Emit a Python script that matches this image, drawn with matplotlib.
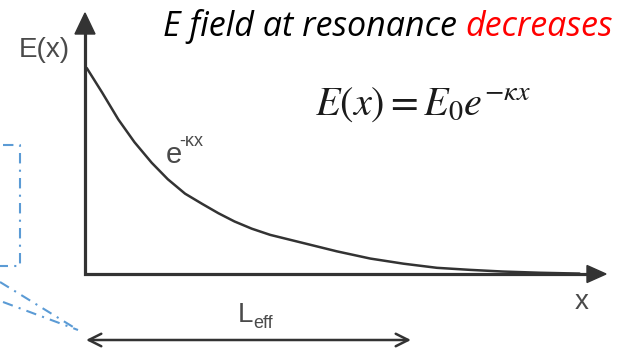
import numpy as np
import matplotlib.pyplot as plt
from matplotlib.patches import Polygon

# Field decay read along the propagation direction (kx units) and normalised field E/E0
kx = [0.015, 0.15, 0.29, 0.43, 0.58, 0.72, 0.87, 1.02, 1.16, 1.30, 1.45,
      1.61, 1.90, 2.19, 2.48, 2.77, 3.06, 3.35, 3.63, 3.96, 4.30]
e_rel = [1.0, 0.88, 0.75, 0.64, 0.54, 0.46, 0.39, 0.34, 0.295, 0.255, 0.22,
         0.19, 0.15, 0.11, 0.075, 0.05, 0.03, 0.02, 0.012, 0.006, 0.002]

title_main = 'E field at resonance '
title_hl = 'decreases'
y_label = 'E(x)'
x_label = 'x'
curve_label = 'e'
curve_exp = '-κx'
formula = r'$E(x) = E_0e^{-\kappa x}$'
length_label = 'L'
length_sub = 'eff'

W, H = 634, 354
ink = '#333333'
txt = '#4a4a4a'
blue = '#5B9BD5'

plt.rcParams['mathtext.fontset'] = 'stix'

fig = plt.figure(figsize=(W / 100, H / 100), dpi=100)

# overlay axes in pixel units for arrows and labels
ov = fig.add_axes([0, 0, 1, 1])
ov.set_xlim(0, W)
ov.set_ylim(H, 0)
ov.axis('off')

# plot axes: origin at (85, 274) px, x axis to 606 px, y axis to 13 px
x0, y0, x1, y1 = 85, 274, 606, 13
pa = fig.add_axes([x0 / W, (H - y0) / H, (x1 - x0) / W, (y0 - y1) / H])
pa.set_xlim(0, 4.53)
pa.set_ylim(0, 1.267)
pa.axis('off')
pa.patch.set_alpha(0)
pa.plot(kx, e_rel, color=ink, lw=1.8, solid_capstyle='round', solid_joinstyle='round')

# axes with filled arrow heads
ov.plot([x0, x0, 590], [33, y0, y0], color=ink, lw=2.3, solid_joinstyle='miter')
ov.add_patch(Polygon([[75, 34], [95, 34], [85, 13]], closed=True, color=ink))
ov.add_patch(Polygon([[587, 265.5], [587, 282.5], [606, 274]], closed=True, color=ink))

ov.text(44, 50, y_label, fontsize=20, family='Liberation Sans', color=txt,
        ha='center', va='center')
ov.text(582, 302, x_label, fontsize=20, family='Liberation Sans', color=txt,
        ha='center', va='center')

# curve label e^-kx
ov.text(166, 163, curve_label, fontsize=21, family='Liberation Sans', color=txt,
        ha='left', va='baseline')
ov.text(179, 146, curve_exp, fontsize=13, family='Liberation Sans', color=txt,
        ha='left', va='baseline')

# formula
ov.text(315, 115, formula, fontsize=29, color='#1a1a1a', ha='left', va='baseline')

# title in two colours
t1 = ov.text(163, 36, title_main, fontsize=24.5, family='Open Sans', style='italic',
             color='black', ha='left', va='baseline')
ov.annotate(title_hl, xy=(1, 0), xycoords=t1, fontsize=24.5, family='Open Sans',
            style='italic', color='red', ha='left', va='bottom')

# effective length double arrow
ov.annotate('', xy=(86, 340), xytext=(411, 340),
            arrowprops=dict(arrowstyle='<->,head_length=0.9,head_width=0.45',
                            lw=1.8, color=ink, shrinkA=0, shrinkB=0))
t2 = ov.text(238, 322, length_label, fontsize=20, family='Liberation Sans', color=txt,
             ha='left', va='baseline')
ov.annotate(length_sub, xy=(1, 0), xycoords=t2, xytext=(0, -3), textcoords='offset points',
            fontsize=13, family='Liberation Sans', color=txt, ha='left', va='bottom')

# dash-dot callout lines on the left
ls = (0, (5, 3, 1, 3))
ov.plot([3, 20, 20, 0], [145, 145, 266, 266], color=blue, lw=1.5, linestyle=ls)
ov.plot([0, 78], [282, 330], color=blue, lw=1.5, linestyle=ls)
ov.plot([3, 78], [302, 330], color=blue, lw=1.5, linestyle=ls)

fig.savefig('out.png', dpi=100)
